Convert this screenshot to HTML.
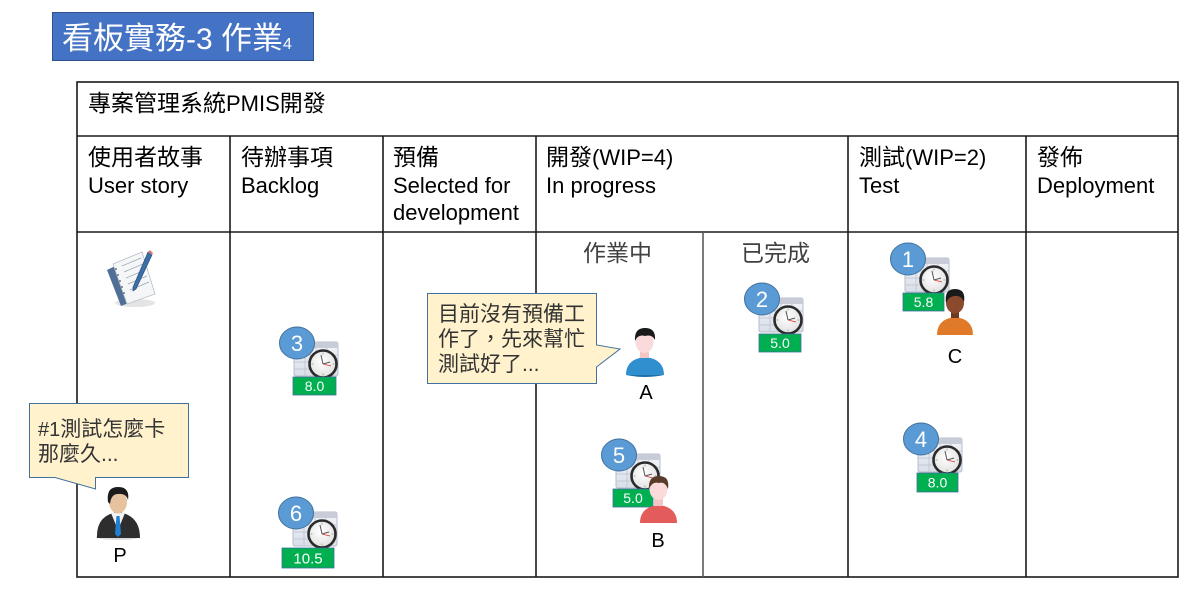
<!DOCTYPE html>
<html><head><meta charset="utf-8"><style>
html,body{margin:0;padding:0;background:#fff;width:1204px;height:599px;overflow:hidden}
svg{display:block}
.cj{font-family:"Liberation Sans","Noto Sans CJK TC",sans-serif}
</style></head><body>
<svg width="1204" height="599" viewBox="0 0 1204 599" xmlns="http://www.w3.org/2000/svg" font-family="Liberation Sans, Noto Sans CJK TC, sans-serif">
<defs>
<linearGradient id="calg" x1="0" y1="0" x2="0" y2="1"><stop offset="0" stop-color="#f3f5f9"/><stop offset="1" stop-color="#d9dee8"/></linearGradient>
<radialGradient id="clkg" cx="0.45" cy="0.4" r="0.7"><stop offset="0" stop-color="#ffffff"/><stop offset="1" stop-color="#dcdcdc"/></radialGradient>
<g id="cal">
<rect x="-3" y="-1" width="44" height="34" rx="2" fill="url(#calg)" stroke="#b4bccb" stroke-width="1"/>
<rect x="-3" y="-1" width="44" height="6" rx="2" fill="#c7ccd8"/>
<g stroke="#c3c9d6" stroke-width="1">
<line x1="8" y1="5" x2="8" y2="33"/><line x1="19" y1="5" x2="19" y2="33"/><line x1="30" y1="5" x2="30" y2="33"/>
<line x1="-3" y1="12" x2="41" y2="12"/><line x1="-3" y1="19" x2="41" y2="19"/><line x1="-3" y1="26" x2="41" y2="26"/>
</g>
<circle cx="26" cy="21" r="13.5" fill="url(#clkg)" stroke="#2b2b2b" stroke-width="2.6"/>
<g stroke="#999" stroke-width="0.8"><line x1="26" y1="9.5" x2="26" y2="11.5"/><line x1="26" y1="30.5" x2="26" y2="32.5"/><line x1="14.5" y1="21" x2="16.5" y2="21"/><line x1="35.5" y1="21" x2="37.5" y2="21"/></g>
<line x1="26" y1="21" x2="24" y2="12" stroke="#555" stroke-width="1"/>
<line x1="26" y1="21" x2="33" y2="19" stroke="#555" stroke-width="1"/>
<line x1="26" y1="21" x2="34" y2="23" stroke="#d33" stroke-width="0.8"/>
</g>
</defs>

<!-- Title -->
<rect x="52.5" y="12.5" width="261" height="48" fill="#4472C4" stroke="#2F528F" stroke-width="1"/>
<text x="62" y="49" fill="#fff" font-size="31"><tspan>看板實務</tspan><tspan font-size="30">-3 </tspan><tspan>作業</tspan><tspan font-size="16">4</tspan></text>

<!-- Table grid -->
<g stroke="#1a1a1a" stroke-width="1.6" fill="none">
<rect x="77" y="82" width="1101" height="495"/>
<line x1="77" y1="136" x2="1178" y2="136"/>
<line x1="77" y1="232" x2="1178" y2="232"/>
<line x1="230" y1="136" x2="230" y2="577"/>
<line x1="383" y1="136" x2="383" y2="577"/>
<line x1="536" y1="136" x2="536" y2="577"/>
<line x1="848" y1="136" x2="848" y2="577"/>
<line x1="1026" y1="136" x2="1026" y2="577"/>
</g>
<line x1="703" y1="232" x2="703" y2="577" stroke="#5a5a5a" stroke-width="1.6"/>

<!-- Header texts -->
<g fill="#000" font-size="22">
<text x="88" y="111"><tspan font-size="23">專案管理系統</tspan>PMIS<tspan font-size="23">開發</tspan></text>
<text x="88" y="165" font-size="23">使用者故事</text>
<text x="88" y="193">User story</text>
<text x="241" y="165" font-size="23">待辦事項</text>
<text x="241" y="193">Backlog</text>
<text x="393" y="165" font-size="23">預備</text>
<text x="393" y="193">Selected for</text>
<text x="393" y="220">development</text>
<text x="546" y="165"><tspan font-size="23">開發</tspan>(WIP=4)</text>
<text x="546" y="193">In progress</text>
<text x="859" y="165"><tspan font-size="23">測試</tspan>(WIP=2)</text>
<text x="859" y="193">Test</text>
<text x="1037" y="165" font-size="23">發佈</text>
<text x="1037" y="193">Deployment</text>
</g>
<text x="583" y="261" font-size="23" fill="#404040">作業中</text>
<text x="741" y="261" font-size="23" fill="#404040">已完成</text>

<!-- Document icon -->
<g>
<ellipse cx="135" cy="303" rx="20" ry="4" fill="#e4e4e4"/>
<path d="M107,270 L132,258 L146,296 L121,306 Z" fill="#4f6f96"/>
<path d="M113,264 L142,252 L155,294 L127,304 Z" fill="#f4f6f8" stroke="#b8bfc8" stroke-width="0.8"/>
<g stroke="#9aa4b0" stroke-width="0.7"><line x1="122" y1="266" x2="141" y2="258"/><line x1="124" y1="272" x2="143" y2="264"/><line x1="126" y1="278" x2="145" y2="270"/><line x1="128" y1="284" x2="147" y2="276"/><line x1="130" y1="290" x2="149" y2="282"/></g>
<g fill="#555"><circle cx="116" cy="269" r="0.9"/><circle cx="118" cy="275" r="0.9"/><circle cx="120" cy="281" r="0.9"/><circle cx="122" cy="287" r="0.9"/><circle cx="124" cy="293" r="0.9"/></g>
<path d="M148,252 L152,255 L136,289 L133,291 L133,287 Z" fill="#3b6ea8" stroke="#24476e" stroke-width="0.6"/>
<path d="M148,252 L150,250 L153,253 L152,255 Z" fill="#d77"/>
</g>

<!-- Cards -->
<g transform="translate(297,343)">
<use href="#cal"/>
<ellipse cx="0" cy="0" rx="17.5" ry="16" fill="#5B9BD5" stroke="#41719C" stroke-width="1"/>
<text x="0" y="8" text-anchor="middle" fill="#fff" font-size="22">3</text>
<rect x="-4" y="34" width="43" height="18" fill="#00B050" stroke="#41719C" stroke-width="0.8"/>
<text x="17.5" y="48" text-anchor="middle" fill="#fff" font-size="14">8.0</text>
</g>
<g transform="translate(296,513)">
<use href="#cal"/>
<ellipse cx="0" cy="0" rx="17.5" ry="16" fill="#5B9BD5" stroke="#41719C" stroke-width="1"/>
<text x="0" y="8" text-anchor="middle" fill="#fff" font-size="22">6</text>
<rect x="-14" y="35" width="52" height="20" fill="#00B050" stroke="#41719C" stroke-width="0.8"/>
<text x="12" y="50.5" text-anchor="middle" fill="#fff" font-size="15">10.5</text>
</g>
<g transform="translate(762,299)">
<use href="#cal"/>
<ellipse cx="0" cy="0" rx="17.5" ry="16" fill="#5B9BD5" stroke="#41719C" stroke-width="1"/>
<text x="0" y="8" text-anchor="middle" fill="#fff" font-size="22">2</text>
<rect x="-3" y="35" width="42" height="18" fill="#00B050" stroke="#41719C" stroke-width="0.8"/>
<text x="18" y="49" text-anchor="middle" fill="#fff" font-size="14">5.0</text>
</g>
<g transform="translate(908,259)">
<use href="#cal"/>
<ellipse cx="0" cy="0" rx="17.5" ry="16" fill="#5B9BD5" stroke="#41719C" stroke-width="1"/>
<text x="0" y="8" text-anchor="middle" fill="#fff" font-size="22">1</text>
<rect x="-5" y="34" width="41" height="18" fill="#00B050" stroke="#41719C" stroke-width="0.8"/>
<text x="15.5" y="48" text-anchor="middle" fill="#fff" font-size="14">5.8</text>
</g>
<g transform="translate(921,439)">
<use href="#cal"/>
<ellipse cx="0" cy="0" rx="17.5" ry="16" fill="#5B9BD5" stroke="#41719C" stroke-width="1"/>
<text x="0" y="8" text-anchor="middle" fill="#fff" font-size="22">4</text>
<rect x="-4" y="34" width="41" height="19" fill="#00B050" stroke="#41719C" stroke-width="0.8"/>
<text x="16.5" y="48.5" text-anchor="middle" fill="#fff" font-size="14">8.0</text>
</g>
<g transform="translate(619,455)">
<use href="#cal"/>
<ellipse cx="0" cy="0" rx="17.5" ry="16" fill="#5B9BD5" stroke="#41719C" stroke-width="1"/>
<text x="0" y="8" text-anchor="middle" fill="#fff" font-size="22">5</text>
<rect x="-6" y="34" width="40" height="18" fill="#00B050" stroke="#41719C" stroke-width="0.8"/>
<text x="14" y="48" text-anchor="middle" fill="#fff" font-size="14">5.0</text>
</g>

<!-- Person A -->
<g>
<path d="M626,375 Q626,359 645,357 Q664,359 664,375 Z" fill="#2f8fcf"/>
<path d="M626,375 Q645,379 664,375" fill="#1f6fa8"/>
<rect x="640" y="350" width="9" height="8" fill="#f1c6c4"/>
<ellipse cx="644.5" cy="342" rx="9" ry="11" fill="#fadada"/>
<path d="M635,341 Q634,328 645,328 Q656,328 655,340 Q652,334 645,336 Q638,334 635,341 Z" fill="#1a1a1a"/>
</g>
<text x="646" y="399" text-anchor="middle" font-size="20" fill="#000">A</text>

<!-- Person B -->
<g>
<path d="M640,523 Q640,507 658.5,505 Q677,507 677,523 Z" fill="#e35b5b"/>
<rect x="654" y="498" width="9" height="8" fill="#f1c6c4"/>
<ellipse cx="658.5" cy="489" rx="9" ry="11" fill="#fadada"/>
<path d="M649,489 Q648,476 659,476 Q670,476 668,489 Q665,481 659,483 Q652,481 649,489 Z" fill="#5a3a28"/>
</g>
<text x="658" y="547" text-anchor="middle" font-size="20" fill="#000">B</text>

<!-- Person C -->
<g>
<path d="M937,335 Q937,319 955,317 Q973,319 973,335 Z" fill="#e07a28"/>
<rect x="951" y="310" width="8" height="8" fill="#6e3a22"/>
<ellipse cx="955" cy="303" rx="9" ry="10.5" fill="#8b4a2e"/>
<path d="M946,303 Q944,289 955,289 Q966,289 964,302 Q961,295 955,296 Q949,296 946,303 Z" fill="#1a1a1a"/>
</g>
<text x="955" y="363" text-anchor="middle" font-size="20" fill="#000">C</text>

<!-- Callout 1 -->
<path d="M427.5,293.5 L596.5,293.5 L596.5,345 L620,349 L596.5,367 L596.5,383.5 L427.5,383.5 Z" fill="#FFF2CC" stroke="#41719C" stroke-width="1"/>
<g font-size="21" fill="#333">
<text x="438" y="321">目前沒有預備工</text>
<text x="438" y="346">作了，先來幫忙</text>
<text x="438" y="371">測試好了...</text>
</g>

<!-- Callout 2 -->
<path d="M29.5,403.5 L188.5,403.5 L188.5,477.5 L95.5,477.5 L95.5,489 L55,477.5 L29.5,477.5 Z" fill="#FFF2CC" stroke="#41719C" stroke-width="1"/>
<g font-size="21" fill="#333">
<text x="38" y="436"><tspan font-size="20">#1</tspan>測試怎麼卡</text>
<text x="38" y="461">那麼久...</text>
</g>

<!-- Person P -->
<g>
<ellipse cx="118" cy="537" rx="22" ry="3" fill="#ddd"/>
<path d="M97,538 Q96,515 118,512 Q140,515 140,538 Z" fill="#2e2e2e"/>
<path d="M111,513 L118,530 L125,513 Z" fill="#f2f2f2"/>
<path d="M116.5,516 L119.5,516 L121,534 L118,537 L115,534 Z" fill="#1f7fd0"/>
<ellipse cx="118" cy="502" rx="9" ry="11.5" fill="#e7c29e"/>
<path d="M108,502 Q106,487 118,487 Q130,487 128,500 Q126,493 118,494 Q111,494 110,504 Z" fill="#1b1b1b"/>
</g>
<text x="120" y="562" text-anchor="middle" font-size="20" fill="#000">P</text>
</svg>
</body></html>
